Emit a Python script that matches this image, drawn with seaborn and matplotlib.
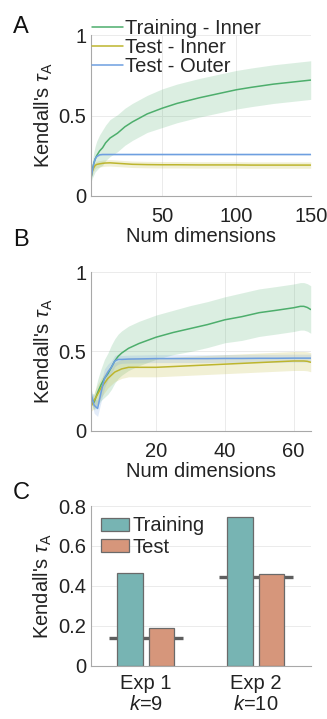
import numpy as np
import pandas as pd
import matplotlib
matplotlib.use("Agg")
import matplotlib.pyplot as plt
import seaborn as sns
from matplotlib.patches import Patch

sns.set_theme(style="white")
plt.rcParams['font.family'] = ['Liberation Sans', 'DejaVu Sans']
plt.rcParams['mathtext.fontset'] = 'custom'
plt.rcParams['mathtext.rm'] = 'Liberation Sans'
plt.rcParams['mathtext.it'] = 'Liberation Sans:italic'
plt.rcParams['mathtext.default'] = 'it'

# ---------------- data ----------------
# Panel A
dims_a = [2, 3, 4, 5, 6, 8, 10, 12, 15, 20, 25, 30, 40, 50, 60, 75, 90, 100, 110, 125, 140, 150]
train_inner_a = [0.10, 0.16, 0.20, 0.23, 0.25, 0.28, 0.30, 0.33, 0.36, 0.39, 0.43, 0.46, 0.51, 0.545,
                 0.575, 0.61, 0.64, 0.66, 0.675, 0.695, 0.71, 0.72]
train_inner_a_sd = [0.02, 0.05, 0.07, 0.08, 0.09, 0.10, 0.11, 0.11, 0.115, 0.115, 0.115, 0.115, 0.115,
                    0.12, 0.12, 0.12, 0.12, 0.12, 0.12, 0.12, 0.12, 0.12]
test_inner_a = [0.11, 0.15, 0.175, 0.19, 0.196, 0.20, 0.203, 0.205, 0.206, 0.203, 0.20, 0.197, 0.195,
                0.194, 0.194, 0.193, 0.193, 0.193, 0.192, 0.192, 0.192, 0.192]
test_inner_a_sd = [0.015, 0.02, 0.02, 0.02, 0.02, 0.02, 0.02, 0.02, 0.02, 0.02, 0.02, 0.02, 0.02,
                   0.02, 0.02, 0.02, 0.02, 0.02, 0.02, 0.02, 0.02, 0.02]
test_outer_a = [0.10, 0.15, 0.20, 0.23, 0.245, 0.256, 0.258, 0.258, 0.258, 0.258, 0.258, 0.258, 0.258,
                0.258, 0.258, 0.258, 0.258, 0.258, 0.258, 0.258, 0.258, 0.258]
test_outer_a_sd = [0.005] * 22

# Panel B
dims_b = [1, 2, 3, 4, 5, 6, 7, 8, 9, 10, 12, 15, 20, 25, 30, 35, 40, 45, 50, 55, 60, 62, 63, 64, 65]
train_inner_b = [0.21, 0.18, 0.24, 0.29, 0.33, 0.36, 0.40, 0.44, 0.47, 0.49, 0.52, 0.55, 0.59, 0.62,
                 0.645, 0.67, 0.70, 0.72, 0.745, 0.76, 0.776, 0.785, 0.785, 0.778, 0.765]
train_inner_b_sd = [0.03, 0.05, 0.08, 0.10, 0.12, 0.13, 0.14, 0.14, 0.14, 0.14, 0.14, 0.14, 0.14, 0.14,
                    0.145, 0.145, 0.145, 0.15, 0.15, 0.15, 0.15, 0.15, 0.15, 0.15, 0.15]
test_inner_b = [0.15, 0.19, 0.23, 0.27, 0.30, 0.33, 0.35, 0.37, 0.38, 0.39, 0.40, 0.40, 0.40, 0.405,
                0.41, 0.415, 0.42, 0.425, 0.43, 0.435, 0.44, 0.44, 0.44, 0.438, 0.432]
test_inner_b_sd = [0.03, 0.05, 0.06, 0.06, 0.06, 0.06, 0.06, 0.06, 0.06, 0.06, 0.06, 0.06, 0.06, 0.06,
                   0.06, 0.06, 0.06, 0.06, 0.06, 0.06, 0.06, 0.06, 0.06, 0.06, 0.06]
test_outer_b = [0.24, 0.16, 0.14, 0.24, 0.33, 0.37, 0.40, 0.44, 0.45, 0.45, 0.452, 0.453, 0.455, 0.455,
                0.455, 0.455, 0.456, 0.456, 0.457, 0.457, 0.458, 0.458, 0.458, 0.458, 0.458]
test_outer_b_sd = [0.03, 0.05, 0.05, 0.06, 0.06, 0.05, 0.04, 0.035, 0.03, 0.025, 0.025, 0.025, 0.025,
                   0.025, 0.025, 0.025, 0.025, 0.025, 0.025, 0.025, 0.025, 0.025, 0.025, 0.025, 0.025]

series_labels = ['Training - Inner', 'Test - Inner', 'Test - Outer']

# Panel C
experiments = ['Exp 1\n$k$=9', 'Exp 2\n$k$=10']
conditions = ['Training', 'Test']
training_vals = [0.464, 0.746]
test_vals = [0.187, 0.458]
chance_vals = [0.14, 0.445]

# ---------------- style ----------------
c_green = '#4DAE6C'
c_yellow = '#BDB52E'
c_blue = '#6E9FE0'
c_train = '#77B4B3'
c_test = '#D6967B'
spine_c = '#A8A8A8'
text_c = '#222222'
fs = 14.5

fig = plt.figure(figsize=(3.27, 7.19), dpi=100)
axA = fig.add_axes([0.2774, 0.7274, 0.6728, 0.2239])
axB = fig.add_axes([0.2774, 0.4010, 0.6728, 0.2203])
axC = fig.add_axes([0.2774, 0.0741, 0.6728, 0.2221])


def style_axes(ax, xgrid=True):
    for s in ['top', 'right']:
        ax.spines[s].set_visible(False)
    for s in ['left', 'bottom']:
        ax.spines[s].set_color(spine_c)
        ax.spines[s].set_linewidth(0.8)
    ax.tick_params(direction='in', length=3, width=0.6, color=spine_c,
                   labelsize=fs, labelcolor=text_c, pad=3)
    ax.tick_params(axis='x', pad=8)
    ax.grid(True, axis='y', color='#EBEBEB', linewidth=0.7)
    if xgrid:
        ax.grid(True, axis='x', color='#EBEBEB', linewidth=0.7)
    ax.set_axisbelow(True)
    ax.set_ylabel("Kendall's $\\tau_\\mathrm{A}$", fontsize=fs, color=text_c, labelpad=3)


def draw_lines(ax, x, ys, sds, colors):
    for y, sd, col, lab in zip(ys, sds, colors, series_labels):
        y = np.asarray(y)
        sd = np.asarray(sd)
        ax.fill_between(x, y - sd, y + sd, color=col, alpha=0.2, linewidth=0)
        sns.lineplot(x=x, y=y, ax=ax, color=col, linewidth=1.1, label=lab, errorbar=None)


# Panel A
draw_lines(axA, dims_a, [train_inner_a, test_inner_a, test_outer_a],
           [train_inner_a_sd, test_inner_a_sd, test_outer_a_sd], [c_green, c_yellow, c_blue])
style_axes(axA)
axA.set_xlim(2, 150)
axA.set_ylim(0, 1)
axA.set_xticks([50, 100, 150])
axA.set_yticks([0, 0.5, 1])
axA.set_yticklabels(['0', '0.5', '1'])
axA.set_xlabel('Num dimensions', fontsize=fs, color=text_c, labelpad=1)
axA.legend(loc='upper left', bbox_to_anchor=(0.005, 1.10), frameon=False, fontsize=fs,
           handlelength=1.55, handletextpad=0.12, labelspacing=0.0, borderpad=0, borderaxespad=0)

# Panel B
draw_lines(axB, dims_b, [train_inner_b, test_inner_b, test_outer_b],
           [train_inner_b_sd, test_inner_b_sd, test_outer_b_sd], [c_green, c_yellow, c_blue])
style_axes(axB)
axB.set_xlim(1, 65)
axB.set_ylim(0, 1)
axB.set_xticks([20, 40, 60])
axB.set_yticks([0, 0.5, 1])
axB.set_yticklabels(['0', '0.5', '1'])
axB.set_xlabel('Num dimensions', fontsize=fs, color=text_c, labelpad=1)
axB.get_legend().remove()

# Panel C
df = pd.DataFrame({
    'exp': experiments * 2,
    'cond': [conditions[0]] * 2 + [conditions[1]] * 2,
    'val': training_vals + test_vals,
})
for i, cv in enumerate(chance_vals):
    axC.plot([i - 0.335, i + 0.335], [cv, cv], color='#5E5E5E', linewidth=2.4,
             solid_capstyle='butt', zorder=1.5)
sns.barplot(data=df, x='exp', y='val', hue='cond', order=experiments, hue_order=conditions,
            palette=[c_train, c_test], saturation=1, width=0.57, gap=0.19, edgecolor='#6A6A6A',
            linewidth=0.9, ax=axC, zorder=2, legend=False)
style_axes(axC, xgrid=False)
axC.set_xlim(-0.5, 1.5)
axC.set_ylim(0, 0.8)
axC.set_yticks([0, 0.2, 0.4, 0.6, 0.8])
axC.set_yticklabels(['0', '0.2', '0.4', '0.6', '0.8'])
axC.set_xlabel('')
axC.tick_params(axis='x', length=0, pad=6)
for t in axC.get_xticklabels():
    t.set_linespacing(1.1)
axC.legend(handles=[Patch(facecolor=c_train, edgecolor='#6A6A6A', linewidth=0.9),
                    Patch(facecolor=c_test, edgecolor='#6A6A6A', linewidth=0.9)],
           labels=conditions, loc='upper left', bbox_to_anchor=(0.045, 0.935), frameon=False,
           fontsize=fs, handlelength=1.4, handleheight=0.65, handletextpad=0.2,
           labelspacing=0.12, borderpad=0, borderaxespad=0)

# Panel letters
for lab, y in [('A', 0.978), ('B', 0.682), ('C', 0.330)]:
    fig.text(0.04, y, lab, fontsize=17, color='#111111', ha='left', va='top')

fig.savefig('out.png', dpi=100)
